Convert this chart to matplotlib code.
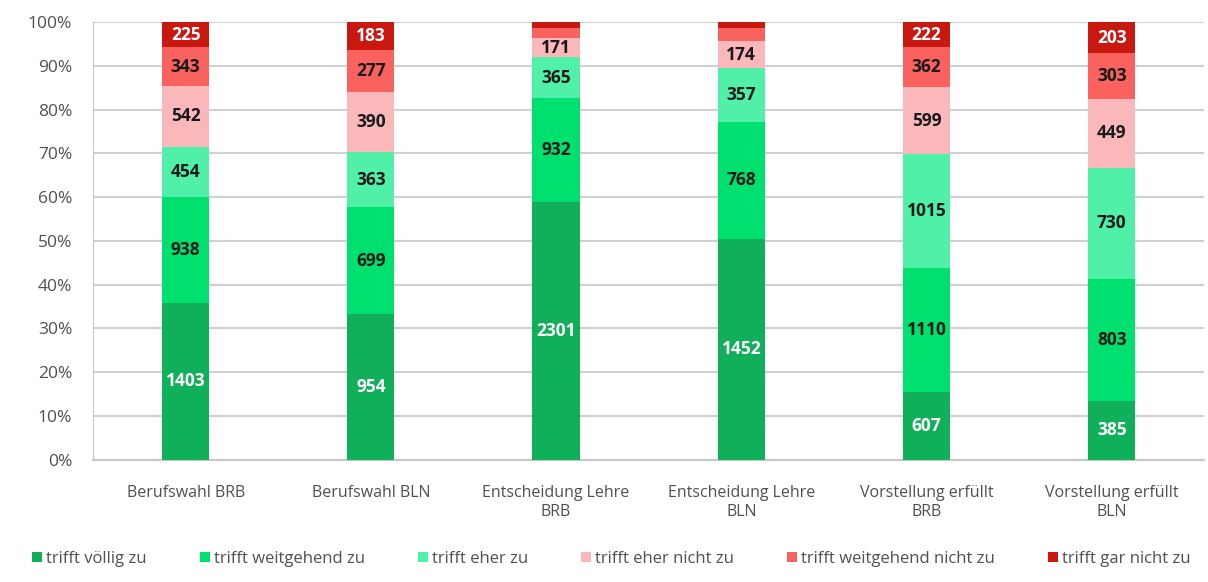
import numpy as np
import matplotlib
matplotlib.use("Agg")
import matplotlib.pyplot as plt
from matplotlib.patches import Patch

plt.rcParams["font.family"] = ["Open Sans", "DejaVu Sans"]

categories = [
    "Berufswahl BRB",
    "Berufswahl BLN",
    "Entscheidung Lehre\nBRB",
    "Entscheidung Lehre\nBLN",
    "Vorstellung erfüllt\nBRB",
    "Vorstellung erfüllt\nBLN",
]
series_names = [
    "trifft völlig zu",
    "trifft weitgehend zu",
    "trifft eher zu",
    "trifft eher nicht zu",
    "trifft weitgehend nicht zu",
    "trifft gar nicht zu",
]
voellig = [1403, 954, 2301, 1452, 607, 385]
weitgehend = [938, 699, 932, 768, 1110, 803]
eher = [454, 363, 365, 357, 1015, 730]
eher_nicht = [542, 390, 171, 174, 599, 449]
weitgehend_nicht = [343, 277, 90, 86, 362, 303]  # Lehre BRB/BLN not labelled, estimated
gar_nicht = [225, 183, 55, 40, 222, 203]  # Lehre values estimated
show_label = [
    [True] * 6,
    [True] * 6,
    [True] * 6,
    [True] * 6,
    [True, True, False, False, True, True],
    [True, True, False, False, True, True],
]

colors = ["#10B05A", "#00E06E", "#50F0A8", "#FBB8BA", "#F9625F", "#C81810"]
label_colors = ["white", "#1a1a1a", "#1a1a1a", "#1a1a1a", "#1a1a1a", "white"]

data = np.array([voellig, weitgehend, eher, eher_nicht, weitgehend_nicht, gar_nicht], dtype=float)
totals = data.sum(axis=0)
pct = data / totals * 100

fig = plt.figure(figsize=(12.08, 5.82), dpi=100)
ax = fig.add_axes([0.077, 0.21, 0.92, 0.752])

x = np.arange(len(categories))
bottom = np.zeros(len(categories))
for i, name in enumerate(series_names):
    ax.bar(x, pct[i], bottom=bottom, width=0.255, color=colors[i], label=name, zorder=3)
    for j in range(len(categories)):
        if show_label[i][j]:
            ax.text(x[j], bottom[j] + pct[i][j] / 2, f"{int(data[i][j])}",
                    ha="center", va="center", fontsize=12.5, fontweight="bold",
                    color=label_colors[i], zorder=4)
    bottom += pct[i]

ax.set_xlim(-0.5, len(categories) - 0.5)
ax.set_ylim(0, 100)
ax.set_yticks(np.arange(0, 101, 10))
ax.set_yticklabels([f"{v}%" for v in range(0, 101, 10)], fontsize=12.5, color="#505050")
ax.set_xticks(x)
ax.set_xticklabels(categories, fontsize=11.5, color="#505050", linespacing=1.25)
ax.tick_params(axis="y", length=0, pad=15)
ax.tick_params(axis="x", length=0, pad=18)
ax.yaxis.grid(True, color="#d0d0d0", linewidth=1.5, zorder=0)
for side in ["top", "right"]:
    ax.spines[side].set_visible(False)
ax.spines["left"].set_color("#c8c8c8")
ax.spines["bottom"].set_color("#c8c8c8")
ax.spines["bottom"].set_linewidth(1.5)

handles = [Patch(facecolor=c) for c in colors]
fig.legend(handles, series_names, loc="lower left", bbox_to_anchor=(0.014, 0.0, 0.984, 0.06),
           mode="expand", ncol=6, frameon=False, fontsize=12, handlelength=0.6,
           handleheight=0.6, handletextpad=0.25, columnspacing=1.0, labelcolor="#505050")

fig.savefig("out.png", dpi=100)
